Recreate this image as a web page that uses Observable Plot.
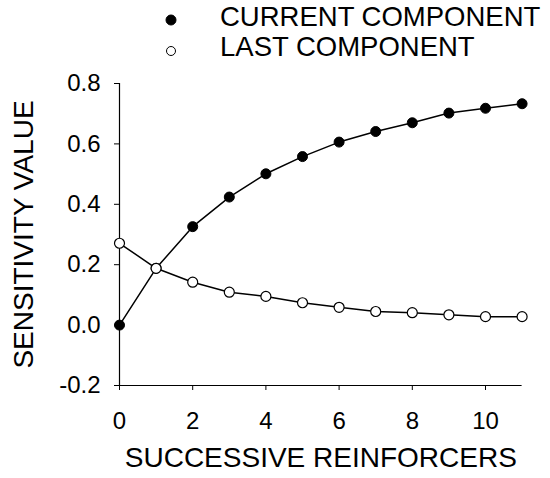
<!DOCTYPE html>
<html>
<head>
<meta charset="utf-8">
<script src="https://cdn.jsdelivr.net/npm/d3@7"></script>
<script src="https://cdn.jsdelivr.net/npm/@observablehq/plot@0.6"></script>
<style>
  html, body { margin: 0; padding: 0; background: #fff; }
  #wrap { width: 550px; height: 478px; position: relative; font-family: "Liberation Sans", Arial, sans-serif; color: #000; }
  #legend { position: relative; height: 66px; width: 550px; }
  .lg-sym { position: absolute; }
  .lg-txt { position: absolute; font-size: 27.5px; line-height: 30px; white-space: nowrap; }
  #chart svg { display: block; }
</style>
</head>
<body>
<div id="wrap">
  <div id="legend"></div>
  <div id="chart"></div>
</div>
<script>
// ---- data ----
const reinforcers = [0, 1, 2, 3, 4, 5, 6, 7, 8, 9, 10, 11];
const currentComponent = [0.0, 0.188, 0.326, 0.424, 0.501, 0.558, 0.606, 0.641, 0.670, 0.702, 0.718, 0.733];
const lastComponent = [0.271, 0.188, 0.142, 0.109, 0.095, 0.074, 0.059, 0.045, 0.041, 0.034, 0.028, 0.028];
const seriesNames = ["CURRENT COMPONENT", "LAST COMPONENT"];
const xTicks = [0, 2, 4, 6, 8, 10];
const yTicks = [-0.2, 0, 0.2, 0.4, 0.6, 0.8];
const xLabel = "SUCCESSIVE REINFORCERS";
const yLabel = "SENSITIVITY VALUE";

const current = reinforcers.map((x, i) => ({x, y: currentComponent[i]}));
const last = reinforcers.map((x, i) => ({x, y: lastComponent[i]}));

// ---- legend ----
const legend = document.getElementById("legend");
const legendStyles = [
  {fill: "#000", stroke: "#000", r: 5, cy: 20, textTop: 2},
  {fill: "#fff", stroke: "#000", r: 4.5, cy: 51, textTop: 32}
];
seriesNames.forEach((name, i) => {
  const s = legendStyles[i];
  const sym = document.createElementNS("http://www.w3.org/2000/svg", "svg");
  sym.setAttribute("width", 14); sym.setAttribute("height", 14);
  sym.setAttribute("class", "lg-sym");
  sym.style.left = (171 - 7) + "px";
  sym.style.top = (s.cy - 7) + "px";
  const c = document.createElementNS("http://www.w3.org/2000/svg", "circle");
  c.setAttribute("cx", 7); c.setAttribute("cy", 7); c.setAttribute("r", s.r);
  c.setAttribute("fill", s.fill); c.setAttribute("stroke", s.stroke); c.setAttribute("stroke-width", 1);
  sym.appendChild(c);
  legend.appendChild(sym);
  const t = document.createElement("div");
  t.className = "lg-txt";
  t.style.left = "220px";
  t.style.top = s.textTop + "px";
  t.textContent = name;
  legend.appendChild(t);
});

// ---- chart ----
const chart = Plot.plot({
  width: 550,
  height: 412,
  marginTop: 17,
  marginBottom: 93,
  marginLeft: 119,
  marginRight: 28.4,
  style: {fontFamily: "Liberation Sans, Arial, sans-serif", fontSize: "24px", color: "#000", background: "#fff"},
  x: {domain: [0, 11], ticks: xTicks, tickSize: 5, tickPadding: 21, tickFormat: d => String(d),
      label: xLabel, labelAnchor: "center", labelOffset: 81, labelArrow: "none"},
  y: {domain: [-0.2, 0.8], ticks: yTicks, tickSize: 5, tickPadding: 14, tickFormat: d => d.toFixed(1),
      label: yLabel, labelAnchor: "center", labelOffset: 106, labelArrow: "none"},
  marks: [
    Plot.ruleX([0], {stroke: "#000", strokeWidth: 1.2}),
    Plot.ruleY([-0.2], {stroke: "#000", strokeWidth: 1.2}),
    Plot.line(current, {x: "x", y: "y", stroke: "#000", strokeWidth: 1.5}),
    Plot.line(last, {x: "x", y: "y", stroke: "#000", strokeWidth: 1.5}),
    Plot.dot(current, {x: "x", y: "y", r: 5, fill: "#000", stroke: "#000", strokeWidth: 1}),
    Plot.dot(last, {x: "x", y: "y", r: 5, fill: "#fff", stroke: "#000", strokeWidth: 1.2})
  ]
});
document.getElementById("chart").appendChild(chart);
// axis titles: larger font, no arrows
d3.select(chart).selectAll("text").each(function () {
  const txt = this.textContent;
  if (txt.startsWith(xLabel) || txt.startsWith(yLabel)) {
    const clean = txt.startsWith(xLabel) ? xLabel : yLabel;
    if (txt !== clean) {
      const tspans = this.querySelectorAll("tspan");
      if (tspans.length) tspans.forEach(ts => { ts.textContent = ts.textContent.replace(/\s*[\u2190-\u21ff]\s*/g, ""); });
      else this.textContent = clean;
      if (this.textContent !== clean) this.textContent = clean;
    }
    d3.select(this).style("font-size", "28px");
  }
});
</script>
</body>
</html>
